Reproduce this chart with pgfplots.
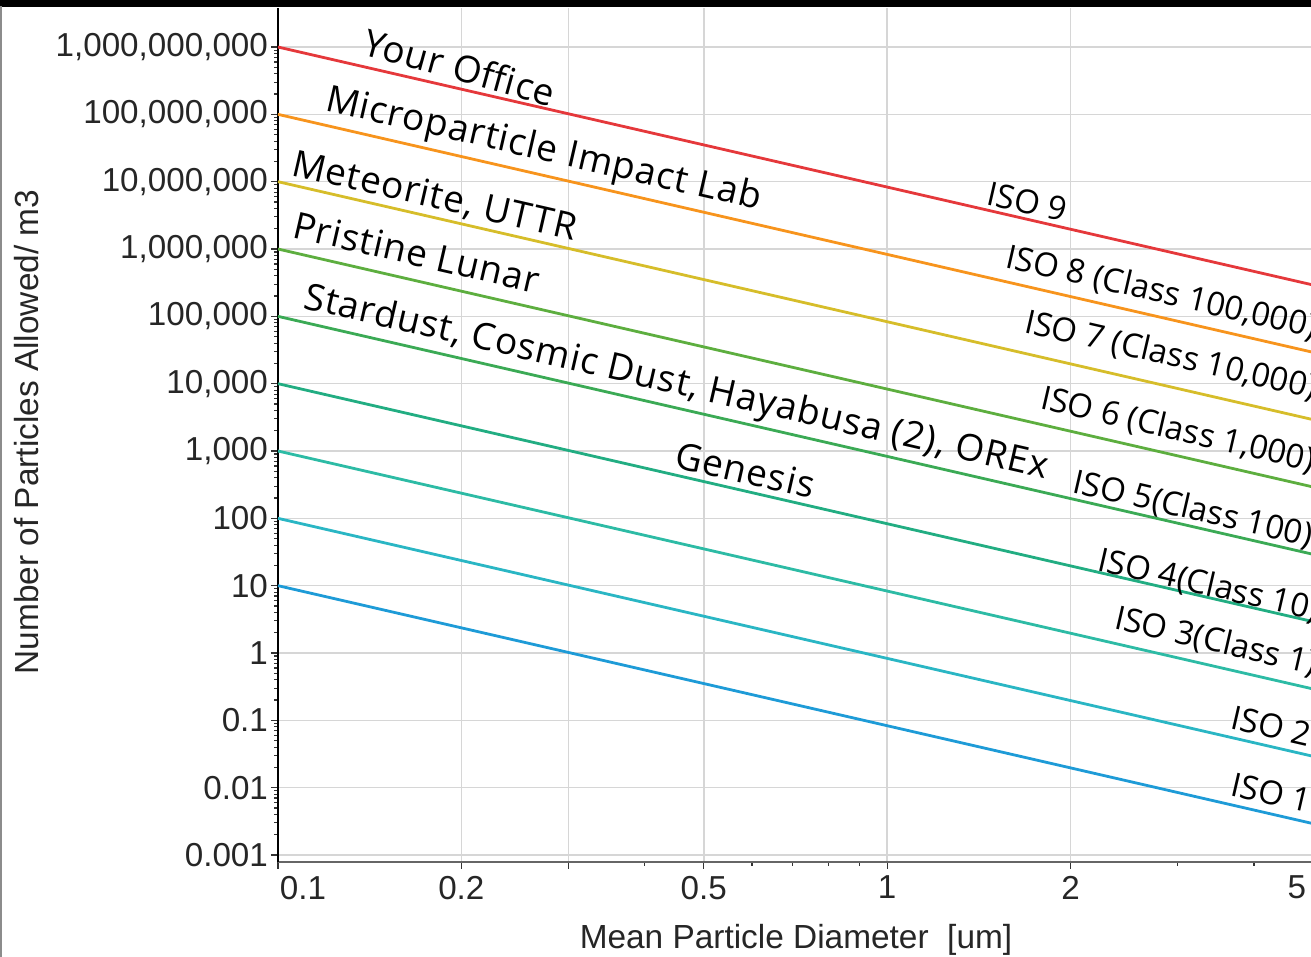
\documentclass[border=0pt]{standalone}
\usepackage{fontspec}
\setmainfont{Liberation Sans}
\newfontfamily\annfont{Open Sans}[LetterSpace=2.5]
\newfontfamily\isofont{Open Sans}
\usepackage{pgfplots}
\usepackage{pgfplotstable}
\pgfplotsset{compat=1.18}

\definecolor{iso9}{HTML}{E5383B}
\definecolor{iso8}{HTML}{F7941D}
\definecolor{iso7}{HTML}{D6BD2A}
\definecolor{iso6}{HTML}{5DAE3F}
\definecolor{iso5}{HTML}{3BAA55}
\definecolor{iso4}{HTML}{22AD82}
\definecolor{iso3}{HTML}{2DBBA5}
\definecolor{iso2}{HTML}{2AB6C4}
\definecolor{iso1}{HTML}{1E9BD7}

\tikzset{
  ann/.style={anchor=base west, inner sep=0pt, rotate=-12.95,
    font=\annfont\fontsize{18.5}{20}\selectfont},
  iso/.style={anchor=base west, inner sep=0pt, rotate=-12.95,
    font=\isofont\fontsize{16.5}{20}\selectfont},
}

%%% particles per m3 for each ISO class
\pgfplotstableread{
x    iso1     iso2    iso3    iso4    iso5    iso6     iso7     iso8     iso9
0.1  10       100     1000    1e4     1e5     1e6      1e7      1e8      1e9
0.2  2.365    23.65   236.5   2365    23650   2.365e5  2.365e6  2.365e7  2.365e8
0.5  0.3517   3.517   35.17   351.7   3517    35170    3.517e5  3.517e6  3.517e7
1    0.08318  0.8318  8.318   83.18   831.8   8318     83180    8.318e5  8.318e6
2    0.01967  0.1967  1.967   19.67   196.7   1967     19670    1.967e5  1.967e6
5    0.002925 0.02925 0.2925  2.925   29.25   292.5    2925     29250    2.925e5
}\isodata

\begin{document}
\begin{tikzpicture}
  \begin{axis}[
    scale only axis,
    width=517.5pt, height=427pt,
    xmode=log, ymode=log,
    xmin=0.1, xmax=5,
    ymin=7.87e-4, ymax=3.8e9,
    axis lines=left,
    axis line style={-},
    x axis line style={draw=black!60, line width=1pt},
    y axis line style={draw=black, line width=1pt},
    xtick={0.1,0.2,0.3,0.5,1,2,5},
    xticklabels={\rlap{\hspace{1pt}0.1},0.2,,0.5,1,2,\llap{5\hspace{3.5pt}}},
    minor xtick={0.4,0.6,0.7,0.8,0.9,3,4},
    ytick={1e-3,1e-2,0.1,1,10,100,1e3,1e4,1e5,1e6,1e7,1e8,1e9},
    yticklabels={0.001,0.01,0.1,1,10,100,{1,000},{10,000},{100,000},
      {1,000,000},{10,000,000},{100,000,000},{1,000,000,000}},
    grid=major,
    major grid style={draw=black!16, line width=0.75pt},
    tick align=outside,
    major tick length=3.5pt,
    minor tick length=1.8pt,
    every tick/.style={black!80, line width=0.6pt},
    tick label style={font=\fontsize{16.6}{20}\selectfont, text=black!85},
    yticklabel style={xshift=2pt},
    clip=false,
  ]
    \addplot [iso1, line width=1.4pt] table [x=x, y=iso1] {\isodata};
    \addplot [iso2, line width=1.4pt] table [x=x, y=iso2] {\isodata};
    \addplot [iso3, line width=1.4pt] table [x=x, y=iso3] {\isodata};
    \addplot [iso4, line width=1.4pt] table [x=x, y=iso4] {\isodata};
    \addplot [iso5, line width=1.4pt] table [x=x, y=iso5] {\isodata};
    \addplot [iso6, line width=1.4pt] table [x=x, y=iso6] {\isodata};
    \addplot [iso7, line width=1.4pt] table [x=x, y=iso7] {\isodata};
    \addplot [iso8, line width=1.4pt] table [x=x, y=iso8] {\isodata};
    \addplot [iso9, line width=1.4pt] table [x=x, y=iso9] {\isodata};

    %%% sample names, left
    \node [ann, rotate=-2.55] at (axis cs:0.1368,7.87e8) {Your Office};
    \node [ann] at (axis cs:0.1190,1.16e8) {Microparticle Impact Lab};
    \node [ann] at (axis cs:0.1046,1.256e7) {Meteorite, UTTR};
    \node [ann] at (axis cs:0.1050,1.507e6) {Pristine Lunar};
    \node [ann] at (axis cs:0.1095,1.33e5) {Stardust, Cosmic Dust, Hayabusa (2), OREx};
    \node [ann] at (axis cs:0.4453,578) {Genesis};

    %%% class names, right
    \node [iso] at (axis cs:1.448,4.66e6) {ISO 9};
    \node [iso] at (axis cs:1.556,5.40e5) {ISO 8 (Class 100,000)};
    \node [iso] at (axis cs:1.669,5.85e4) {ISO 7 (Class 10,000)};
    \node [iso] at (axis cs:1.774,4257) {ISO 6 (Class 1,000)};
    \node [iso] at (axis cs:2.005,246) {ISO 5(Class 100)};
    \node [iso] at (axis cs:2.204,17.06) {ISO 4(Class 10)};
    \node [iso] at (axis cs:2.346,2.30) {ISO 3(Class 1)};
    \node [iso] at (axis cs:3.644,0.0753) {ISO 2};
    \node [iso] at (axis cs:3.644,0.00776) {ISO 1};

    \coordinate (O) at (rel axis cs:0,0);
  \end{axis}

  \node [rotate=90, font=\fontsize{16.7}{20}\selectfont, text=black!85]
    at ([shift={(-125.5pt,215pt)}]O) {Number of Particles Allowed/ m3};
  \node [font=\fontsize{16.7}{20}\selectfont, text=black!85]
    at ([shift={(259pt,-39pt)}]O) {Mean Particle Diameter\ \ [um]};

  %%% screenshot frame
  \fill [black] ([shift={(-140pt,427.6pt)}]O) rectangle ([shift={(518pt,432pt)}]O);
  \draw [black!45, line width=1pt] ([shift={(-138.5pt,-48pt)}]O) -- ([shift={(-138.5pt,428pt)}]O);

  \pgfresetboundingbox
  \path ([shift={(-139pt,-47.5pt)}]O) rectangle ([shift={(516.5pt,431pt)}]O);
\end{tikzpicture}
\end{document}
